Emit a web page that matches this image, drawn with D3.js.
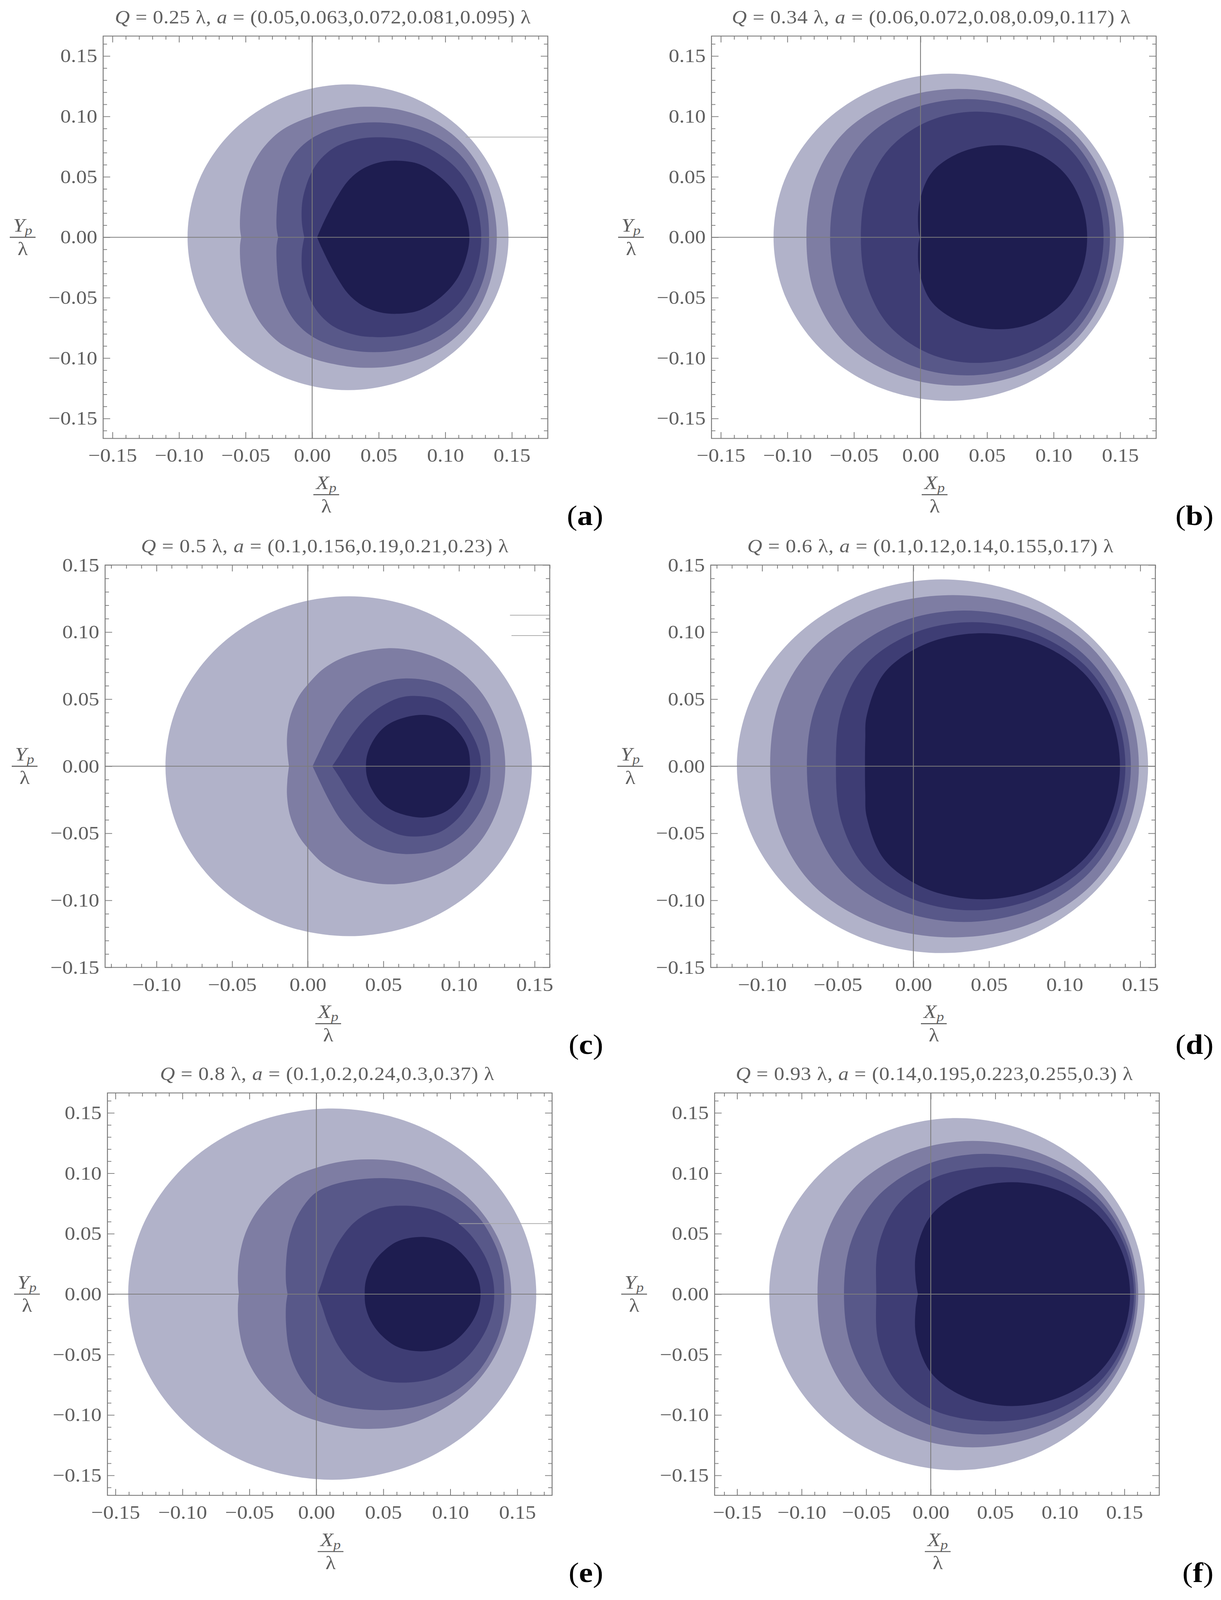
<!DOCTYPE html>
<html>
<head>
<meta charset="utf-8">
<script src="https://cdn.jsdelivr.net/npm/d3@7"></script>
<style>
  html, body { margin: 0; padding: 0; background: #ffffff; overflow: hidden; }
  svg { display: block; width: 100vw; height: 100vh; }
</style>
</head>
<body>
<svg id="chart" viewBox="0 0 3125 4525" preserveAspectRatio="none"></svg>
<script>
// ---------------- DATA ----------------
const panelLetters = ["a", "b", "c", "d", "e", "f"];
const chargeQ = ["0.25", "0.34", "0.5", "0.6", "0.8", "0.93"];
const spinA = [
  "0.05,0.063,0.072,0.081,0.095",
  "0.06,0.072,0.08,0.09,0.117",
  "0.1,0.156,0.19,0.21,0.23",
  "0.1,0.12,0.14,0.155,0.17",
  "0.1,0.2,0.24,0.3,0.37",
  "0.14,0.195,0.223,0.255,0.3"
];
const xDomains = [[-0.157, 0.177], [-0.157, 0.177], [-0.134, 0.160], [-0.134, 0.160], [-0.156, 0.176], [-0.1674, 0.177]];
const yDomains = [[-0.1665, 0.1665], [-0.1665, 0.1665], [-0.15, 0.15], [-0.15, 0.15], [-0.1665, 0.1665], [-0.1665, 0.1665]];
const majorTicks = [-0.15, -0.10, -0.05, 0, 0.05, 0.10, 0.15];
const tickLabels = ["\u22120.15", "\u22120.10", "\u22120.05", "0.00", "0.05", "0.10", "0.15"];
const shadeColors = ["#b1b2c9", "#7e7da3", "#585889", "#3e3d74", "#1e1d50"];

// Shadow outlines (upper half, from the left point on y = 0 to the right point on y = 0), in units of lambda
const shadowsA = [
  [[-0.0936,0],[-0.0845,0.0484],[-0.0583,0.0894],[-0.0192,0.1168],[0.0269,0.1265],[0.0731,0.1168],[0.1121,0.0894],[0.1383,0.0484],[0.1475,0]],
  [[-0.0533,0],[-0.0542,0.0075],[-0.0537,0.0235],[-0.0508,0.0419],[-0.0453,0.0586],[-0.0357,0.0754],[-0.0215,0.0896],[0,0.1002],[0.0188,0.1055],[0.0389,0.108],[0.0641,0.1059],[0.0892,0.0966],[0.1094,0.0812],[0.1245,0.0603],[0.1345,0.0335],[0.1387,0]],
  [[-0.0255,0],[-0.0267,0.0075],[-0.0265,0.0235],[-0.0245,0.0419],[-0.0198,0.057],[-0.0122,0.0704],[-0.0013,0.0812],[0.0138,0.0893],[0.0305,0.0938],[0.0473,0.0951],[0.0674,0.093],[0.0892,0.0854],[0.1077,0.072],[0.1211,0.0536],[0.1303,0.0285],[0.1329,0]],
  [[-0.0059,0],[-0.0077,0.012],[-0.0075,0.0285],[-0.0047,0.0419],[-0.0005,0.0536],[0.0062,0.0645],[0.0171,0.0745],[0.0339,0.0812],[0.054,0.0826],[0.0741,0.0796],[0.0943,0.0695],[0.1111,0.0536],[0.122,0.0318],[0.127,0]],
  [[0.0037,0],[0.007,0.0084],[0.0121,0.0201],[0.0188,0.0335],[0.0272,0.0469],[0.0372,0.0561],[0.0507,0.062],[0.0649,0.0633],[0.0809,0.0603],[0.0976,0.0486],[0.1094,0.0335],[0.1161,0.0151],[0.1181,0]]
];
const shadowsB = [
  [[-0.1104,0],[-0.1005,0.0517],[-0.0719,0.0957],[-0.0292,0.125],[0.0215,0.1354],[0.0713,0.125],[0.1139,0.0957],[0.1426,0.0517],[0.1527,0]],
  [[-0.0857,0],[-0.0794,0.047],[-0.0573,0.0868],[-0.0186,0.1135],[0.0281,0.1228],[0.0755,0.1135],[0.1147,0.0868],[0.1384,0.047],[0.1467,0]],
  [[-0.0679,0],[-0.0619,0.0439],[-0.0419,0.0811],[-0.0072,0.106],[0.0352,0.1143],[0.078,0.1056],[0.1134,0.0808],[0.1348,0.0438],[0.1423,0]],
  [[-0.0448,0],[-0.0401,0.0398],[-0.0233,0.0735],[0.0061,0.0961],[0.0414,0.104],[0.0798,0.0961],[0.1116,0.0735],[0.1308,0.0398],[0.1375,0]],
  [[-0.0004,0],[-0.0016,0.0064],[-0.0007,0.0292],[0.0087,0.0539],[0.0306,0.0704],[0.0592,0.0762],[0.0856,0.0704],[0.1074,0.0539],[0.1206,0.0292],[0.1252,0]]
];
const shadowsC = [
  [[-0.0941,0],[-0.0849,0.0486],[-0.0586,0.0896],[-0.0193,0.1171],[0.0271,0.1267],[0.0735,0.1171],[0.1128,0.0896],[0.139,0.0486],[0.1482,0]],
  [[-0.0124,0],[-0.0135,0.0108],[-0.0137,0.0223],[-0.0116,0.0371],[-0.006,0.0519],[0,0.0609],[0.011,0.0732],[0.0271,0.0826],[0.0528,0.088],[0.0754,0.0847],[0.0979,0.0732],[0.1157,0.0535],[0.1269,0.0273],[0.1306,0]],
  [[0.0032,0],[0.0077,0.0108],[0.0142,0.0256],[0.0222,0.0404],[0.0335,0.0535],[0.0464,0.0617],[0.0649,0.0655],[0.0867,0.0617],[0.1028,0.0502],[0.114,0.0338],[0.1197,0.0174],[0.1207,0]],
  [[0.0161,0],[0.0206,0.0076],[0.0287,0.0223],[0.0383,0.0355],[0.0496,0.0453],[0.0609,0.0511],[0.0714,0.0524],[0.0867,0.0494],[0.0995,0.0387],[0.1092,0.0223],[0.1137,0.0092],[0.1144,0]],
  [[0.0385,0],[0.0391,0.0076],[0.0424,0.0174],[0.0496,0.0281],[0.0593,0.0346],[0.0762,0.0383],[0.0899,0.0346],[0.0995,0.0256],[0.1057,0.0141],[0.1073,0]]
];
const shadowsD = [
  [[-0.1167,0],[-0.1062,0.0532],[-0.0765,0.0984],[-0.0325,0.1287],[0.0185,0.1393],[0.0716,0.1287],[0.1154,0.0984],[0.1449,0.0532],[0.1552,0]],
  [[-0.0947,0],[-0.0882,0.049],[-0.0646,0.0905],[-0.0234,0.1183],[0.0261,0.1276],[0.0755,0.1183],[0.116,0.0905],[0.1406,0.049],[0.1491,0]],
  [[-0.0704,0],[-0.0647,0.0445],[-0.0445,0.0821],[-0.0093,0.1073],[0.0332,0.1161],[0.0774,0.1073],[0.1139,0.0821],[0.1361,0.0445],[0.1438,0]],
  [[-0.0512,0],[-0.0476,0.0411],[-0.0314,0.0759],[0,0.0992],[0.0386,0.1074],[0.0792,0.0992],[0.1128,0.0759],[0.1331,0.0411],[0.1402,0]],
  [[-0.032,0],[-0.0318,0.0198],[-0.0308,0.038],[-0.0188,0.0701],[0.0092,0.0917],[0.0458,0.0992],[0.0821,0.0917],[0.1121,0.0701],[0.1302,0.038],[0.1366,0]]
];
const shadowsE = [
  [[-0.1405,0],[-0.1288,0.0588],[-0.0958,0.1086],[-0.0464,0.1419],[0.0119,0.1536],[0.0701,0.1419],[0.1196,0.1086],[0.1526,0.0588],[0.1642,0]],
  [[-0.0578,0],[-0.0586,0.0097],[-0.0578,0.028],[-0.0537,0.0482],[-0.0456,0.0665],[-0.0334,0.0827],[-0.0172,0.0969],[0,0.1046],[0.0193,0.1098],[0.0395,0.1115],[0.0638,0.109],[0.0882,0.0989],[0.1125,0.0807],[0.1307,0.0563],[0.1419,0.028],[0.1455,0]],
  [[-0.0215,0],[-0.0227,0.0097],[-0.0225,0.028],[-0.0203,0.0462],[-0.0152,0.0624],[-0.0071,0.0766],[0,0.0843],[0.0132,0.0908],[0.0314,0.0949],[0.0527,0.0959],[0.076,0.0928],[0.1003,0.0827],[0.1206,0.0644],[0.1338,0.0401],[0.1392,0.0199],[0.1403,0]],
  [[0.001,0],[0.0041,0.0097],[0.0091,0.0259],[0.0172,0.0442],[0.0294,0.0604],[0.0456,0.0705],[0.0669,0.0732],[0.0902,0.0685],[0.1105,0.0543],[0.1246,0.034],[0.1311,0.0158],[0.1328,0]],
  [[0.0361,0],[0.0367,0.0097],[0.0405,0.0219],[0.0486,0.034],[0.0618,0.0442],[0.0817,0.0472],[0.1003,0.0411],[0.1145,0.0259],[0.121,0.0118],[0.1226,0]]
];
const shadowsF = [
  [[-0.1251,0],[-0.1141,0.0558],[-0.0825,0.103],[-0.0353,0.1345],[0.0203,0.1457],[0.076,0.1345],[0.1232,0.103],[0.1547,0.0558],[0.1658,0]],
  [[-0.0877,0],[-0.0811,0.0486],[-0.0577,0.0896],[-0.0169,0.1171],[0.0323,0.1268],[0.0836,0.1171],[0.126,0.0896],[0.1517,0.0486],[0.1607,0]],
  [[-0.0672,0],[-0.0613,0.0445],[-0.0401,0.0821],[-0.0032,0.1073],[0.0413,0.1161],[0.0883,0.1073],[0.1271,0.0821],[0.1507,0.0445],[0.1589,0]],
  [[-0.0422,0],[-0.0404,0.0403],[-0.0253,0.0744],[0.0048,0.0972],[0.0519,0.1052],[0.0941,0.0972],[0.1289,0.0744],[0.15,0.0403],[0.1574,0]],
  [[-0.0099,0],[-0.0118,0.0129],[-0.0112,0.0355],[0.0006,0.0655],[0.0274,0.0856],[0.0624,0.0926],[0.0992,0.0856],[0.1295,0.0655],[0.1479,0.0355],[0.1544,0]]
];
// 1 = outline has a cusp / notch at its left point on y = 0
const cuspFlags = [
  [0, 1, 1, 1, 1],
  [0, 0, 0, 0, 1],
  [0, 1, 1, 1, 0],
  [0, 0, 0, 0, 0],
  [0, 1, 1, 1, 0],
  [0, 0, 0, 0, 1]
];
// short stray horizontal rendering lines (start point, running to the right frame edge)
const strayLines = [
  [[0.1153, 0.0829]],
  [],
  [[0.1337, 0.1126], [0.1347, 0.0974]],
  [],
  [[0.1064, 0.0584]],
  []
];
const allShadows = [shadowsA, shadowsB, shadowsC, shadowsD, shadowsE, shadowsF];

// ---------------- LAYOUT ----------------
const FRAME_W = 1138, FRAME_H = 1138;
const frameLefts = [264, 1821, 269, 1819, 275, 1829];
const frameTops = [102, 102, 1598, 1598, 3091, 3091];
const titleWidths = [1064, 1020, 940, 937, 855, 1016];
const letterRight = [1544, 3106, 1544, 3106, 1544, 3106];
const FONT = "'Liberation Serif','Times New Roman',Times,serif";
const TXT = "#606060";
const FRAMEC = "#7a7a7a";

const svg = d3.select("#chart");

function outlinePath(pts, cusp, x, y) {
  const lower = pts.slice(0, -1).reverse().map(d => [d[0], -d[1]]);
  if (cusp) {
    const loop = pts.concat(lower);
    return d3.line().x(d => x(d[0])).y(d => y(d[1])).curve(d3.curveCatmullRom.alpha(0.5))(loop) + "Z";
  }
  const loop = pts.concat(lower.slice(0, -1));
  return d3.line().x(d => x(d[0])).y(d => y(d[1])).curve(d3.curveCatmullRomClosed.alpha(0.5))(loop);
}

function labelFor(v) {
  const idx = majorTicks.findIndex(t => Math.abs(t - v) < 1e-9);
  return idx >= 0 ? tickLabels[idx] : "";
}

function styleAxis(sel) {
  sel.select(".domain").remove();
  sel.selectAll(".tick line").attr("stroke", FRAMEC).attr("stroke-width", 2);
  sel.attr("font-family", FONT).attr("font-size", 54);
  sel.selectAll(".tick text").attr("fill", TXT);
}

function fracLabel(g, cx, cy, letter) {
  const num = g.append("text").attr("x", cx).attr("y", cy - 16)
    .attr("text-anchor", "middle").attr("font-family", FONT).attr("font-size", 54).attr("fill", TXT);
  num.append("tspan").attr("font-style", "italic").text(letter);
  num.append("tspan").attr("font-style", "italic").attr("font-size", 38).attr("dy", 9).text("p");
  g.append("line").attr("x1", cx - 33).attr("x2", cx + 33).attr("y1", cy).attr("y2", cy)
    .attr("stroke", TXT).attr("stroke-width", 3);
  g.append("text").attr("x", cx).attr("y", cy + 50).attr("text-anchor", "middle")
    .attr("font-family", FONT).attr("font-size", 54).attr("fill", TXT).text("\u03BB");
}

allShadows.forEach((shadows, i) => {
  const L = frameLefts[i], T = frameTops[i];
  const g = svg.append("g").attr("transform", `translate(${L},${T})`);
  const x = d3.scaleLinear().domain(xDomains[i]).range([0, FRAME_W]);
  const y = d3.scaleLinear().domain(yDomains[i]).range([FRAME_H, 0]);

  const clipId = "clip" + i;
  g.append("clipPath").attr("id", clipId).append("rect").attr("width", FRAME_W).attr("height", FRAME_H);
  const sg = g.append("g").attr("clip-path", `url(#${clipId})`);

  shadows.forEach((pts, k) => {
    sg.append("path").attr("d", outlinePath(pts, cuspFlags[i][k], x, y)).attr("fill", shadeColors[k]);
  });

  strayLines[i].forEach(d => {
    sg.append("line").attr("x1", x(d[0])).attr("x2", FRAME_W).attr("y1", y(d[1])).attr("y2", y(d[1]))
      .attr("stroke", "#a4a4a4").attr("stroke-width", 2);
  });

  // axes through the origin
  sg.append("line").attr("x1", 0).attr("x2", FRAME_W).attr("y1", y(0)).attr("y2", y(0))
    .attr("stroke", "#7d7d7d").attr("stroke-width", 2.2);
  sg.append("line").attr("x1", x(0)).attr("x2", x(0)).attr("y1", 0).attr("y2", FRAME_H)
    .attr("stroke", "#7d7d7d").attr("stroke-width", 2.2);

  // frame
  g.append("rect").attr("width", FRAME_W).attr("height", FRAME_H).attr("fill", "none")
    .attr("stroke", FRAMEC).attr("stroke-width", 2.4);

  const inX = v => v >= xDomains[i][0] - 1e-9 && v <= xDomains[i][1] + 1e-9;
  const inY = v => v >= yDomains[i][0] - 1e-9 && v <= yDomains[i][1] + 1e-9;
  const xMaj = majorTicks.filter(inX), yMaj = majorTicks.filter(inY);
  const minorAll = d3.range(-17, 18).map(k => k / 100).filter(v => Math.abs(v * 20 - Math.round(v * 20)) > 1e-6);
  const xMin = minorAll.filter(inX), yMin = minorAll.filter(inY);

  // bottom
  g.append("g").attr("transform", `translate(0,${FRAME_H})`)
    .call(d3.axisBottom(x).tickValues(xMaj).tickSize(-18).tickSizeOuter(0).tickPadding(28).tickFormat(labelFor)).call(styleAxis);
  g.append("g").attr("transform", `translate(0,${FRAME_H})`)
    .call(d3.axisBottom(x).tickValues(xMin).tickSize(-10).tickSizeOuter(0).tickFormat("")).call(styleAxis);
  // top
  g.append("g").call(d3.axisTop(x).tickValues(xMaj).tickSize(-18).tickSizeOuter(0).tickFormat("")).call(styleAxis);
  g.append("g").call(d3.axisTop(x).tickValues(xMin).tickSize(-10).tickSizeOuter(0).tickFormat("")).call(styleAxis);
  // left
  g.append("g").call(d3.axisLeft(y).tickValues(yMaj).tickSize(-18).tickSizeOuter(0).tickPadding(15).tickFormat(labelFor)).call(styleAxis);
  g.append("g").call(d3.axisLeft(y).tickValues(yMin).tickSize(-10).tickSizeOuter(0).tickFormat("")).call(styleAxis);
  // right
  g.append("g").attr("transform", `translate(${FRAME_W},0)`)
    .call(d3.axisRight(y).tickValues(yMaj).tickSize(-18).tickSizeOuter(0).tickFormat("")).call(styleAxis);
  g.append("g").attr("transform", `translate(${FRAME_W},0)`)
    .call(d3.axisRight(y).tickValues(yMin).tickSize(-10).tickSizeOuter(0).tickFormat("")).call(styleAxis);

  // title
  const title = g.append("text").attr("x", FRAME_W / 2 - 7).attr("y", -36).attr("text-anchor", "middle")
    .attr("font-family", FONT).attr("font-size", 53).attr("fill", TXT)
    .attr("textLength", titleWidths[i]).attr("lengthAdjust", "spacing");
  title.append("tspan").attr("font-style", "italic").text("Q");
  title.append("tspan").text(` = ${chargeQ[i]} \u03BB, `);
  title.append("tspan").attr("font-style", "italic").text("a");
  title.append("tspan").text(` = (${spinA[i]}) \u03BB`);

  // axis labels
  fracLabel(g, FRAME_W / 2 + 2, FRAME_H + 159, "X");
  fracLabel(g, -206, FRAME_H / 2, "Y");

  // panel letter
  const lt = svg.append("text").attr("x", letterRight[i]).attr("y", T + FRAME_H + 245)
    .attr("text-anchor", "end").attr("font-family", FONT).attr("font-size", 80).attr("fill", "#000");
  lt.append("tspan").text("(");
  lt.append("tspan").attr("font-weight", "bold").text(panelLetters[i]);
  lt.append("tspan").text(")");
});
</script>
</body>
</html>
